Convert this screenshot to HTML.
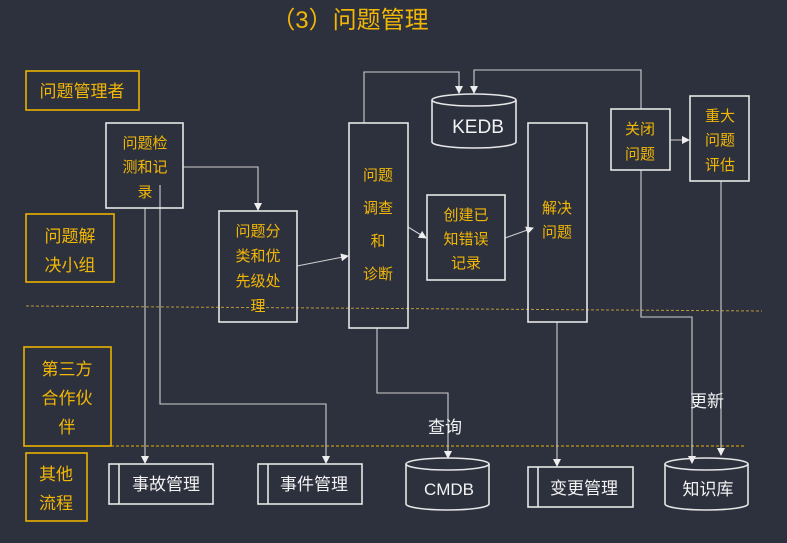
<!DOCTYPE html>
<html><head><meta charset="utf-8"><style>
html,body{margin:0;padding:0;background:#2d313e;}
svg{display:block;}
text{font-family:"Liberation Sans","Noto Sans CJK SC",sans-serif;}
.g{fill:#f2b705;font-size:15px;text-anchor:middle;}
.w{fill:#f2f2f2;font-size:17px;text-anchor:middle;}
.b{fill:none;stroke:#e6e6e6;stroke-width:1.6;}
.l{fill:none;stroke:#cfcfcf;stroke-width:1.1;}
.y{fill:none;stroke:#e8b100;stroke-width:1.6;}
</style></head><body>
<svg width="787" height="543" viewBox="0 0 787 543" xmlns="http://www.w3.org/2000/svg">
<defs><marker id="a" markerWidth="8" markerHeight="8" refX="7" refY="4" orient="auto" markerUnits="userSpaceOnUse"><path d="M0,0 L8,4 L0,8 z" fill="#eee"/></marker></defs>
<rect width="787" height="543" fill="#2d313e"/>
<text x="350" y="28" style="fill:#f2b705;font-size:24px;text-anchor:middle">（3）问题管理</text>
<!-- lanes -->
<rect class="y" x="26" y="71" width="113" height="39"/><text class="g" x="82" y="97" style="font-size:17px">问题管理者</text>
<rect class="y" x="26" y="214" width="88" height="68"/><text class="g" x="70" y="242" style="font-size:17px">问题解</text><text class="g" x="70" y="271" style="font-size:17px">决小组</text>
<rect class="y" x="24" y="347" width="87" height="99"/><text class="g" x="67" y="375" style="font-size:17px">第三方</text><text class="g" x="67" y="404" style="font-size:17px">合作伙</text><text class="g" x="67" y="433" style="font-size:17px">伴</text>
<rect class="y" x="26" y="453" width="61" height="68"/><text class="g" x="56" y="480" style="font-size:17px">其他</text><text class="g" x="56" y="509" style="font-size:17px">流程</text>
<line x1="26" y1="306" x2="762" y2="311" stroke="#b89a3a" stroke-width="1" stroke-dasharray="3,2"/>
<line x1="111" y1="446" x2="746" y2="446" stroke="#e8b100" stroke-width="1" stroke-dasharray="3,2"/>
<!-- connectors -->
<polyline class="l" points="145,208 145,463" marker-end="url(#a)"/>
<polyline class="l" points="160,185 160,404 326,404 326,463" marker-end="url(#a)"/>
<polyline class="l" points="183,167 258,167 258,210" marker-end="url(#a)"/>
<line class="l" x1="297" y1="266" x2="348" y2="256" marker-end="url(#a)"/>
<polyline class="l" points="364,123 364,72 459,72 459,93" marker-end="url(#a)"/>
<line class="l" x1="408" y1="227" x2="426" y2="238" marker-end="url(#a)"/>
<line class="l" x1="505" y1="238" x2="533" y2="228" marker-end="url(#a)"/>
<polyline class="l" points="641,109 641,70 474,70 474,93" marker-end="url(#a)"/>
<line class="l" x1="670" y1="140" x2="689" y2="140" marker-end="url(#a)"/>
<polyline class="l" points="557,322 557,466" marker-end="url(#a)"/>
<polyline class="l" points="377,328 377,393 448,393 448,458" marker-end="url(#a)"/>
<polyline class="l" points="641,170 641,317 692,317 692,463" marker-end="url(#a)"/>
<polyline class="l" points="721,181 721,455" marker-end="url(#a)"/>
<!-- nodes -->
<rect class="b" x="106" y="123" width="77" height="85"/><text class="g" x="145" y="148">问题检</text><text class="g" x="145" y="172">测和记</text><text class="g" x="145" y="197">录</text>
<rect class="b" x="219" y="211" width="78" height="111"/><text class="g" x="258" y="236">问题分</text><text class="g" x="258" y="261">类和优</text><text class="g" x="258" y="286">先级处</text><text class="g" x="258" y="311">理</text>
<rect class="b" x="349" y="123" width="59" height="205"/><text class="g" x="378" y="180">问题</text><text class="g" x="378" y="213">调查</text><text class="g" x="378" y="246">和</text><text class="g" x="378" y="279">诊断</text>
<rect class="b" x="427" y="195" width="78" height="85"/><text class="g" x="466" y="220">创建已</text><text class="g" x="466" y="244">知错误</text><text class="g" x="466" y="268">记录</text>
<rect class="b" x="528" y="123" width="59" height="199"/><text class="g" x="557" y="213">解决</text><text class="g" x="557" y="237">问题</text>
<rect class="b" x="611" y="109" width="59" height="61"/><text class="g" x="640" y="134">关闭</text><text class="g" x="640" y="159">问题</text>
<rect class="b" x="690" y="96" width="59" height="85"/><text class="g" x="720" y="121">重大</text><text class="g" x="720" y="145">问题</text><text class="g" x="720" y="170">评估</text>
<!-- KEDB -->
<path class="b" d="M432,100 L432,142 A42,6 0 0 0 516,142 L516,100" fill="#2d313e"/>
<ellipse class="b" cx="474" cy="100" rx="42" ry="6"/>
<text class="w" x="478" y="133" style="font-size:19px">KEDB</text>
<!-- bottom -->
<rect class="b" x="109" y="464" width="104" height="40"/><line class="b" x1="119" y1="464" x2="119" y2="504"/><text class="w" x="166" y="490">事故管理</text>
<rect class="b" x="258" y="464" width="104" height="40"/><line class="b" x1="268" y1="464" x2="268" y2="504"/><text class="w" x="314" y="490">事件管理</text>
<rect class="b" x="528" y="467" width="105" height="40"/><line class="b" x1="538" y1="467" x2="538" y2="507"/><text class="w" x="584" y="494">变更管理</text>
<path class="b" d="M406,464 L406,504 A41.5,6 0 0 0 489,504 L489,464"/><ellipse class="b" cx="447.5" cy="464" rx="41.5" ry="6"/>
<text class="w" x="449" y="495">CMDB</text>
<path class="b" d="M665,464 L665,504 A41.5,6 0 0 0 748,504 L748,464"/><ellipse class="b" cx="706.5" cy="464" rx="41.5" ry="6"/>
<text class="w" x="708" y="495">知识库</text>
<text class="w" x="445" y="433">查询</text>
<text class="w" x="707" y="407">更新</text>
</svg>
</body></html>
